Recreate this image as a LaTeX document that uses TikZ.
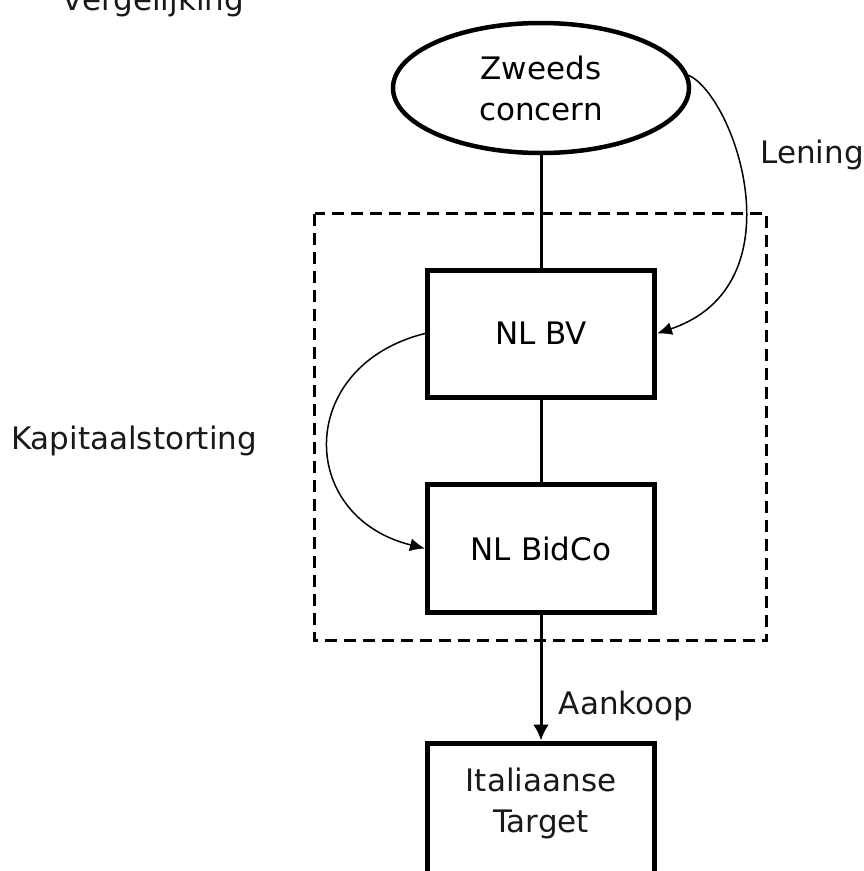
\documentclass[tikz,border=0pt]{standalone}
\usepackage{fontspec}
\setmainfont{DejaVu Sans}
\usetikzlibrary{arrows.meta,shapes.geometric}

\tikzset{
  txt/.style={font=\fontsize{31}{41}\selectfont, text=black!90, inner sep=0pt},
  box/.style={draw, line width=5pt, rectangle, minimum width=227pt, align=center,
              font=\fontsize{31}{41}\selectfont, inner sep=0pt},
  oval/.style={draw, line width=4.5pt, ellipse, minimum width=296pt, minimum height=130pt,
               align=center, font=\fontsize{31}{41}\selectfont, inner sep=0pt},
  link/.style={line width=3pt},
  flow/.style={line width=1.5pt, -{Latex[length=15pt,width=13pt]}},
  frame/.style={draw, line width=3pt, dash pattern=on 12pt off 7pt},
}

\begin{document}
\begin{tikzpicture}[x=1pt, y=-1pt]
  \useasboundingbox[fill=white] (0,0) rectangle (864,871);

  % heading, partly above the page edge
  \node[txt, anchor=base] (title) at (154,10) {vergelijking};

  % Dutch holding structure
  \draw[frame] (314.5,213.5) rectangle (766.5,640.5);

  \node[oval] (zweeds) at (541,88) {Zweeds\\concern};
  \node[box, minimum height=127pt] (nlbv) at (541,333.5) {NL BV};
  \node[box, minimum height=128pt] (bidco) at (541,548.5) {NL BidCo};
  \node[box, minimum height=170pt, anchor=north] (target) at (541,740.5) {};
  \node[txt, align=center] (targettxt) at (541,803) {Italiaanse\\Target};

  % ownership lines
  \draw[link] (zweeds) -- (nlbv);
  \draw[link] (nlbv) -- (bidco);
  \draw[link, -{Latex[length=16pt,width=16pt]}] (bidco.south) -- (target.north);

  % financing flows
  \draw[flow] (zweeds.5) .. controls +(47,22) and +(143,-48) .. (nlbv.east);
  \draw[flow] (nlbv.west) .. controls +(-129,32) and +(-129,-32) .. (bidco.west);

  % flow labels
  \node[txt] (lening) at (812,155) {Lening};
  \node[txt] (kap) at (134,441) {Kapitaalstorting};
  \node[txt] (aankoop) at (626,706) {Aankoop};
\end{tikzpicture}
\end{document}
